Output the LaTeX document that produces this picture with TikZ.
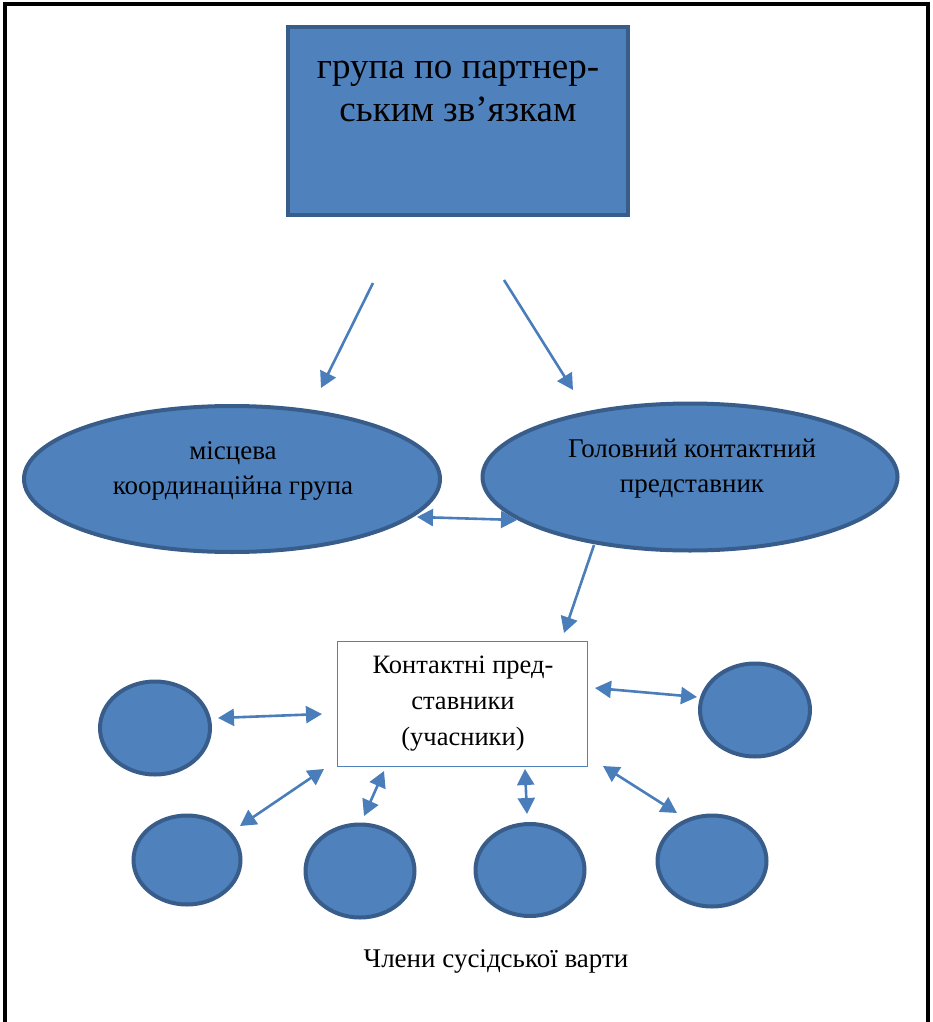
\documentclass[tikz,border=0pt]{standalone}
\usepackage{fontspec}
\setmainfont{Liberation Serif}
\usetikzlibrary{arrows.meta,shapes.geometric}
\definecolor{fillblue}{HTML}{4F81BD}
\definecolor{edgeblue}{HTML}{385D8A}
\definecolor{arrowblue}{HTML}{4A7EBB}
\tikzset{
  blueshape/.style={fill=fillblue,draw=edgeblue,line width=4pt},
  conn/.style={draw=arrowblue,line width=2.6pt,-{Triangle[length=16pt,width=17pt]}},
  dconn/.style={draw=arrowblue,line width=2.6pt,{Triangle[length=16pt,width=17pt]}-{Triangle[length=16pt,width=17pt]}},
  lbl/.style={font=\fontsize{27}{35}\selectfont,align=center,inner sep=0pt}
}
\begin{document}
\begin{tikzpicture}[x=1pt,y=-1pt]
\useasboundingbox (0,0) rectangle (933,1022);
% outer frame (open at bottom)
\draw[line width=3.5pt] (5,1022) -- (5,4) -- (928,4) -- (928,1022);

% top box
\node[blueshape,minimum width=340pt,minimum height=188pt,inner sep=0pt] (top) at (458,121) {};
\node[font=\fontsize{37}{43}\selectfont,align=center,inner sep=0pt] (toptext) at (458,91) {група по партнер-\\ським зв’язкам};

% ellipses
\node[blueshape,ellipse,minimum width=416pt,minimum height=146pt,inner sep=0pt] (lell) at (232,479) {};
\node[lbl] (ltext) at (233,471) {місцева\\координаційна група};
\node[blueshape,ellipse,minimum width=415pt,minimum height=147pt,inner sep=0pt] (rell) at (690,477) {};
\node[lbl] (rtext) at (692,469) {Головний контактний\\представник};

% central box
\node[draw=fillblue,line width=1pt,fill=white,minimum width=250pt,minimum height=125pt,inner sep=0pt] (box) at (462,704) {};
\node[lbl,font=\fontsize{26.5}{36}\selectfont] (boxtext) at (463,704) {Контактні пред-\\ставники\\(учасники)};

% circles
\node[blueshape,ellipse,minimum width=110pt,minimum height=93pt,inner sep=0pt] (c1) at (155,728) {};
\node[blueshape,ellipse,minimum width=110pt,minimum height=93pt,inner sep=0pt] (c2) at (755,710) {};
\node[blueshape,ellipse,minimum width=107pt,minimum height=89pt,inner sep=0pt] (c3) at (187,860) {};
\node[blueshape,ellipse,minimum width=109pt,minimum height=93pt,inner sep=0pt] (c4) at (360,871) {};
\node[blueshape,ellipse,minimum width=109pt,minimum height=92pt,inner sep=0pt] (c5) at (530,870) {};
\node[blueshape,ellipse,minimum width=109pt,minimum height=91pt,inner sep=0pt] (c6) at (712,861) {};

\node[lbl] (members) at (496,961) {Члени сусідської варти};

% connector endpoints
\coordinate (a1s) at (373,283); \coordinate (a1e) at (321,388);
\coordinate (a2s) at (504,280); \coordinate (a2e) at (573,390);
\coordinate (a3s) at (417,517); \coordinate (a3e) at (517,520);
\coordinate (a4s) at (594,545); \coordinate (a4e) at (564,633);
\coordinate (b1s) at (218,718); \coordinate (b1e) at (322,714);
\coordinate (b2s) at (595,688); \coordinate (b2e) at (697,697);
\coordinate (b3s) at (240,826); \coordinate (b3e) at (324,769);
\coordinate (b4s) at (364,816); \coordinate (b4e) at (384,771);
\coordinate (b5s) at (527,814); \coordinate (b5e) at (525,769);
\coordinate (b6s) at (603,766); \coordinate (b6e) at (677,813);

\draw[conn] (a1s) -- (a1e);
\draw[conn] (a2s) -- (a2e);
\draw[dconn] (a3s) -- (a3e);
\draw[conn] (a4s) -- (a4e);
\draw[dconn] (b1s) -- (b1e);
\draw[dconn] (b2s) -- (b2e);
\draw[dconn] (b3s) -- (b3e);
\draw[dconn] (b4s) -- (b4e);
\draw[dconn] (b5s) -- (b5e);
\draw[dconn] (b6s) -- (b6e);
\end{tikzpicture}
\end{document}
